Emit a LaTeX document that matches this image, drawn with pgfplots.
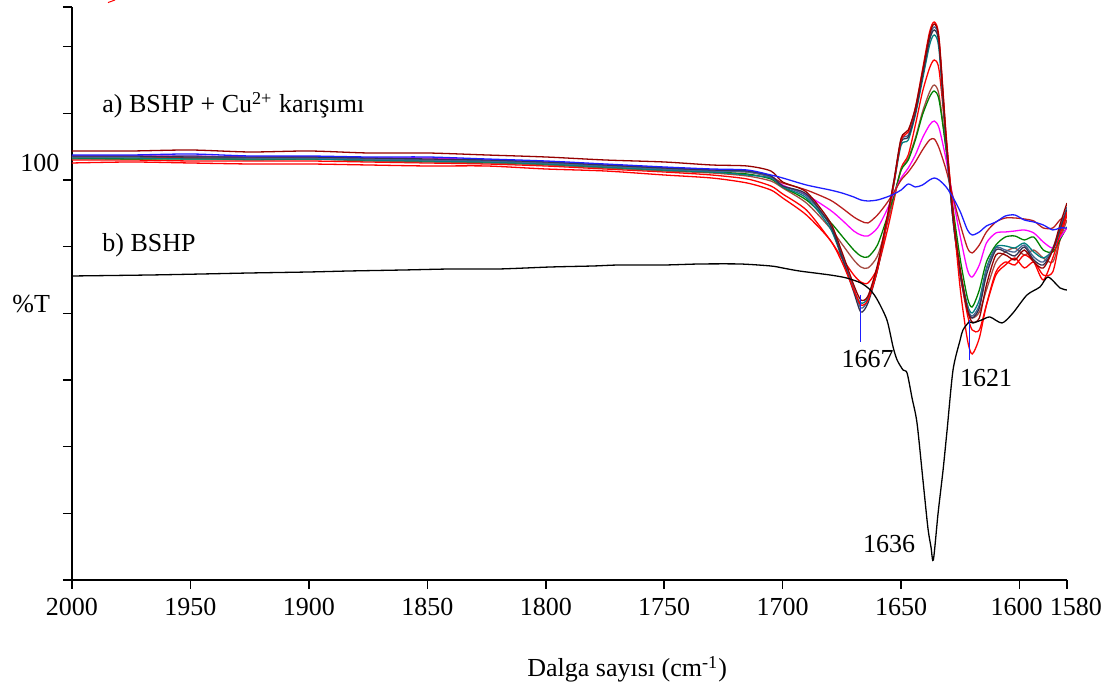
\documentclass[border=0pt]{standalone}
\usepackage{fontspec}
\setmainfont{Liberation Serif}
\usepackage{pgfplots}
\usepackage{pgfplotstable}
\pgfplotsset{compat=1.18}
\definecolor{cblue}{RGB}{30,30,255}
\definecolor{cdr}{RGB}{185,30,30}
\definecolor{cmag}{RGB}{255,0,255}
\definecolor{cgrn}{RGB}{0,128,0}
\definecolor{cbrn}{RGB}{165,75,65}
\definecolor{cred}{RGB}{255,0,0}
\definecolor{cslate}{RGB}{70,100,145}
\definecolor{cteal}{RGB}{0,128,128}
\definecolor{cdrd}{RGB}{150,0,0}
\definecolor{cdsl}{RGB}{50,50,80}

\pgfplotstableread{
x      blue dr  mag grn brn red slate teal rdeep drdeep dslate
2000   425  423 424 422 421 420 423   422  417   429    424
1975   425  423 424 421 421 420 423   422  418   429    424
1950   426  422 424 421 422 419 424   421  417   430    423
1925   424  422 423 421 420 419 422   421  416   428    423
1900   424  423 423 421 421 419 422   421  416   429    423
1875   423  421 422 420 419 418 421   420  415   427    422
1850   423  420 422 419 418 417 420   419  414   427    421
1825   421  419 420 418 417 416 419   418  414   425    420
1800   419  417 418 416 415 414 417   416  411   423    418
1775   416  414 415 413 412 411 414   413  409   420    415
1750   413  412 412 410 409 408 411   410  405   418    412
1730   411  409 410 408 407 405 409   408  402   415    410
1715   410  408 409 406 404 401 408   405  397   414    409
1705   405  403 404 401 399 394 403   402  390   409    404
1700   402  397 395 393 392 386 394   393  382   398    394
1690   395  390 385 380 377 370 384   382  365   388    386
1680   390  380 370 358 352 340 355   352  340   358    355
1675   387  372 360 344 336 322 325   322  318   328    323
1670   383  363 349 330 320 305 292   290  290   295    288
1667   380  359 345 324 313 298 272   277  275   280    268
1664   379  357 344 323 312 297 280   282  280   284    277
1660   380  365 352 335 324 312 312   310  310   315    310
1656   383  377 370 362 355 348 360   358  358   362    358
1653   386  388 387 385 383 380 400   397  398   400    397
1650   390  400 402 410 410 412 440   435  440   442    438
1647   396  408 412 420 422 425 445   440  448   450    443
1644   393  418 425 440 442 455 468   465  472   472    467
1641   395  430 442 465 468 488 505   500  510   508    504
1638   400  440 455 483 488 512 542   535  548   545    540
1636   402  441 459 489 495 520 553   545  558   556    550
1634   400  432 452 480 485 510 538   530  542   540    535
1631   393  410 420 430 430 440 440   435  445   442    438
1628   382  382 380 370 360 365 358   358  365   362    358
1625   368  355 343 320 308 305 305   308  290   310    304
1622   350  332 310 282 272 265 272   275  240   270    270
1620   345  327 303 273 262 250 264   267  226   258    262
1617   348  335 315 290 268 250 275   280  242   262    272
1614   354  348 337 318 290 275 310   312  275   295    305
1610   358  358 347 335 318 305 332   333  308   325    330
1606   364  362 348 343 328 315 330   334  318   325    328
1602   365  362 349 344 332 322 328   332  315   320    324
1598   360  361 350 340 325 312 335   337  325   330    333
1594   358  359 347 343 330 318 323   328  318   318    320
1590   355  352 338 330 322 305 318   322  300   312    315
1586   350  352 332 328 318 308 332   330  322   330    330
1583   352  360 342 340 340 340 352   348  345   355    350
1580   352  365 352 353 360 365 373   370  368   377    370
}\mix

\pgfplotstableread{
x      y
2000   304
1967   305
1945   306
1925   307
1900   308
1883   309
1860   310
1840   311
1820   311
1798   313
1780   314
1769   315
1750   315
1735   316
1718   316
1705   314
1700   312
1693   309
1680   305
1673   302
1667   297
1663   290
1660   280
1656   260
1653.4 233
1651.7 220
1649.2 210
1647.5 207
1645.4 182
1643.3 157
1640.8 100
1638.7 52
1637.4 33
1636.4 20
1634.4 67
1632.3 110
1630.6 150
1628.1 210
1625.1 240
1623.9 250
1621.3 258
1619.7 257
1616   260
1612.5 263
1607.4 257
1602.8 267
1596.9 285
1591.4 293
1588   303
1582.9 292
1580   290
}\bshp

\begin{document}
\fontsize{13}{15}\selectfont
\begin{tikzpicture}[x=1pt,y=1pt,font=\fontsize{13}{15}\selectfont]
\path[use as bounding box] (0,0) rectangle (552.5,344.5);
\begin{axis}[
  at={(36pt,54.5pt)}, anchor=south west,
  scale only axis, width=497.5pt, height=286.5pt,
  xmin=1580, xmax=2000, x dir=reverse,
  ymin=0, ymax=573,
  axis lines=left,
  axis line style={-, line width=0.75pt},
  tick align=outside,
  major tick length=4.5pt,
  tick style={line width=0.75pt, black},
  xtick={2000,1950,1900,1850,1800,1750,1700,1650,1600,1580},
  xticklabels={2000,1950,1900,1850,1800,1750,1700,1650,1600\hspace*{3pt},\hspace*{9pt}1580},
  ytick={0,66.6,133.3,200,266.6,333.3,400,466.6,533.3,573},
  yticklabels={},
  ticklabel style={font=\fontsize{13}{15}\selectfont},
  /pgf/number format/assume math mode=true,
  every axis plot/.append style={line width=0.65pt, smooth, tension=0.45},
]
\addplot[cred, no marks] table[x=x, y=red] {\mix};
\addplot[cbrn, no marks] table[x=x, y=brn] {\mix};
\addplot[cgrn, no marks] table[x=x, y=grn] {\mix};
\addplot[cmag, no marks] table[x=x, y=mag] {\mix};
\addplot[cdr, no marks] table[x=x, y=dr] {\mix};
\addplot[cteal, no marks] table[x=x, y=teal] {\mix};
\addplot[cslate, no marks] table[x=x, y=slate] {\mix};
\addplot[cdsl, no marks] table[x=x, y=dslate] {\mix};
\addplot[cred, no marks] table[x=x, y=rdeep] {\mix};
\addplot[cdrd, no marks] table[x=x, y=drdeep] {\mix};
\addplot[cblue, no marks] table[x=x, y=blue] {\mix};
\addplot[black, no marks] table[x=x, y=y] {\bshp};
\addplot[cblue, no marks, sharp plot, line width=0.6pt] coordinates {(1667,285) (1667,238)};
\addplot[cblue, no marks, sharp plot, line width=0.6pt] coordinates {(1621,260) (1621,220)};
\end{axis}
\draw[red, line width=0.5pt] (54,343.2) -- (57.5,344.5);
\node[anchor=base west, inner sep=0] at (51,288) {a) BSHP + Cu\textsuperscript{2+} karışımı};
\node[anchor=base west, inner sep=0] at (51,218.5) {b) BSHP};
\node[anchor=base west, inner sep=0] at (10,258.5) {100};
\node[anchor=base west, inner sep=0] at (6,188) {\%T};
\node[anchor=base, inner sep=0] at (433.75,160.5) {1667};
\node[anchor=base, inner sep=0] at (493,151) {1621};
\node[anchor=base, inner sep=0] at (444.5,68) {1636};
\node[anchor=base west, inner sep=0] at (263.5,6) {Dalga sayısı (cm\textsuperscript{-1})};
\end{tikzpicture}
\end{document}
